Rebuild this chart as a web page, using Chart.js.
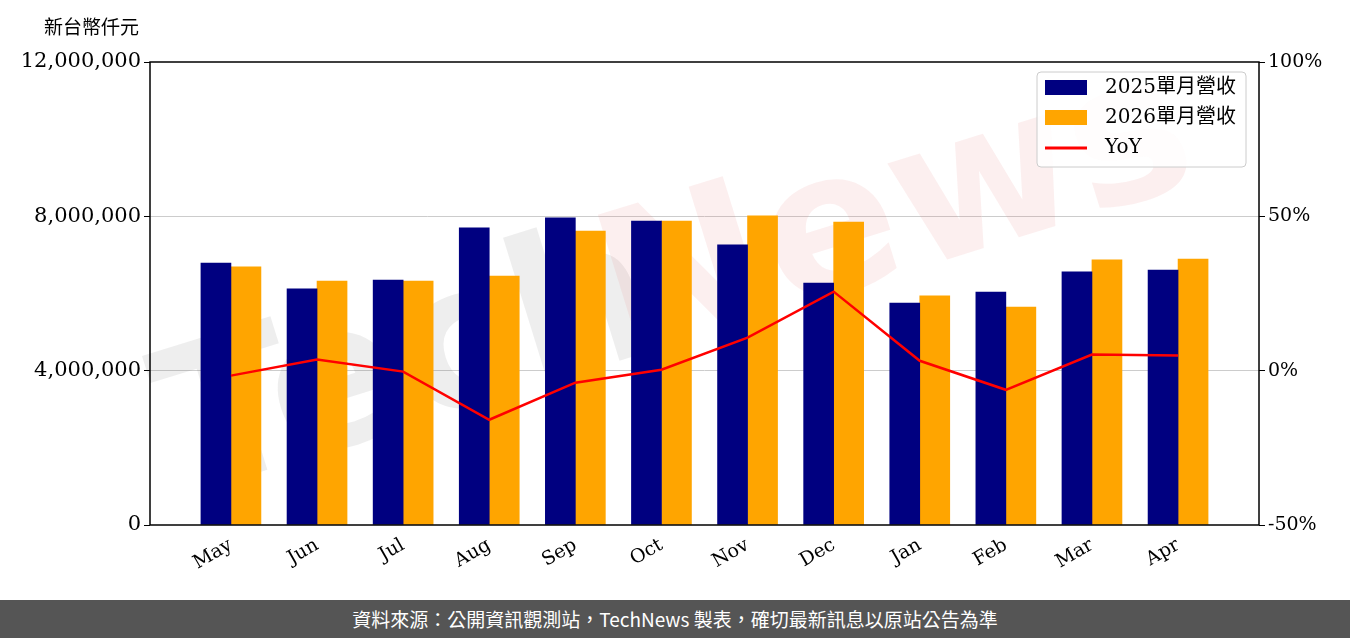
<!DOCTYPE html>
<html>
<head>
<meta charset="utf-8">
<script src="https://cdn.jsdelivr.net/npm/chart.js@4/dist/chart.umd.min.js"></script>
<style>
  body { margin: 0; background: #fff; }
  #wrap { width: 1350px; height: 600px; position: relative; }
  #footer { width: 1350px; height: 38px; background: #555; color: #fff; text-align: center;
    font: 19px "Noto Sans CJK TC", "Noto Sans", sans-serif; line-height: 38px; }
</style>
</head>
<body>
<div id="wrap"><canvas id="myChart" width="1350" height="600"></canvas></div>
<div id="footer">資料來源：公開資訊觀測站，TechNews 製表，確切最新訊息以原站公告為準</div>
<script>
const months = ['May', 'Jun', 'Jul', 'Aug', 'Sep', 'Oct', 'Nov', 'Dec', 'Jan', 'Feb', 'Mar', 'Apr'];
const rev2025 = [6790000, 6120000, 6350000, 7700000, 7960000, 7880000, 7260000, 6270000, 5750000, 6040000, 6560000, 6610000];
const rev2026 = [6690000, 6320000, 6320000, 6450000, 7620000, 7880000, 8010000, 7850000, 5940000, 5650000, 6870000, 6890000];
const yoy = [-1.6, 3.6, -0.3, -15.9, -3.9, 0.3, 10.7, 25.6, 3.2, -6.2, 5.2, 4.9];
const leftTicks = [0, 4000000, 8000000, 12000000];
const rightTicks = [-50, 0, 50, 100];

const FONT = '"DejaVu Serif", "Noto Sans CJK TC", serif';
Chart.defaults.font.family = FONT;
Chart.defaults.color = '#000';

const xy = arr => arr.map((v, i) => ({ x: i, y: v }));

const decorations = {
    id: 'decorations',
    beforeDatasetsDraw(chart) {
        const ctx = chart.ctx;
        ctx.save();
        ctx.translate(640, 300);
        ctx.rotate(-0.3);
        ctx.font = 'bold 200px "DejaVu Sans", sans-serif';
        ctx.textAlign = 'center';
        ctx.textBaseline = 'middle';
        ctx.globalAlpha = 0.1;
        ctx.fillStyle = '#555';
        ctx.fillText('Tech', -240, 0);
        ctx.fillStyle = '#e06060';
        ctx.fillText('News', 270, 0);
        ctx.restore();
    },
    afterDraw(chart) {
        const ctx = chart.ctx;
        const a = chart.chartArea;
        ctx.save();
        ctx.strokeStyle = '#000';
        ctx.lineWidth = 1.5;
        ctx.strokeRect(a.left, a.top, a.right - a.left, a.bottom - a.top);
        ctx.fillStyle = '#000';
        ctx.font = '19px "Noto Sans CJK TC", sans-serif';
        ctx.textBaseline = 'middle';
        ctx.fillText('新台幣仟元', 44, 27);
        // legend
        ctx.fillStyle = 'rgba(255,255,255,0.85)';
        ctx.strokeStyle = '#ccc';
        ctx.lineWidth = 1;
        ctx.beginPath();
        ctx.roundRect(1037, 72, 209, 95, 4);
        ctx.fill();
        ctx.stroke();
        const items = [['2025單月營收', 'bar', '#000080'], ['2026單月營收', 'bar', '#FFA500'], ['YoY', 'line', '#FF0000']];
        ctx.font = '20px ' + FONT;
        items.forEach((it, i) => {
            const y = 88 + i * 30;
            if (it[1] === 'bar') {
                ctx.fillStyle = it[2];
                ctx.fillRect(1045, y - 8, 42, 15);
            } else {
                ctx.strokeStyle = it[2];
                ctx.lineWidth = 3;
                ctx.beginPath();
                ctx.moveTo(1045, y);
                ctx.lineTo(1087, y);
                ctx.stroke();
            }
            ctx.fillStyle = '#000';
            ctx.fillText(it[0], 1105, y);
        });
        ctx.restore();
    }
};

new Chart(document.getElementById('myChart'), {
    type: 'bar',
    data: {
        datasets: [
            { type: 'line', data: xy(yoy), yAxisID: 'y2', borderColor: '#FF0000', borderWidth: 2.5, pointRadius: 0, order: 0 },
            { data: xy(rev2025), backgroundColor: '#000080', barThickness: 30, yAxisID: 'y', order: 1 },
            { data: xy(rev2026), backgroundColor: '#FFA500', barThickness: 30, yAxisID: 'y', order: 1 }
        ]
    },
    options: {
        responsive: false,
        animation: false,
        layout: { padding: { top: 62 } },
        plugins: { legend: { display: false }, tooltip: { enabled: false } },
        scales: {
            x: {
                type: 'linear',
                offset: false,
                min: -0.94, max: 11.94,
                afterBuildTicks: s => { s.ticks = months.map((m, i) => ({ value: i })); },
                afterFit: s => { s.height = 75; },
                grid: { display: false, drawTicks: true, tickLength: 6 },
                border: { display: false },
                ticks: { callback: v => months[v], minRotation: 30, maxRotation: 30, font: { size: 19 } }
            },
            y: {
                position: 'left',
                min: 0, max: 12000000,
                afterBuildTicks: s => { s.ticks = leftTicks.map(v => ({ value: v })); },
                afterFit: s => { s.width = 150; },
                grid: { color: ctx => (ctx.tick && (ctx.tick.value === 0 || ctx.tick.value === 12000000)) ? 'rgba(0,0,0,0)' : '#ccc', tickColor: '#000', tickLength: 6 },
                border: { display: false },
                ticks: { callback: v => v.toLocaleString('en-US'), font: { size: 21 } }
            },
            y2: {
                position: 'right',
                min: -50, max: 100,
                afterBuildTicks: s => { s.ticks = rightTicks.map(v => ({ value: v })); },
                afterFit: s => { s.width = 91; },
                grid: { drawOnChartArea: false, tickColor: '#000', tickLength: 6 },
                border: { display: false },
                ticks: { callback: v => v + '%', font: { size: 19 } }
            }
        }
    },
    plugins: [decorations]
});
</script>
</body>
</html>
